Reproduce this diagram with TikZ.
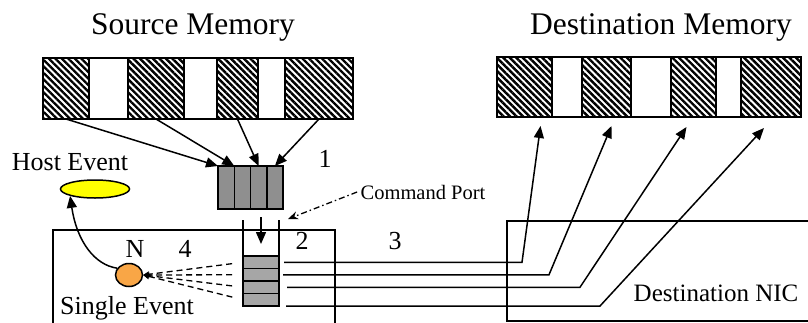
\documentclass[tikz,border=0pt]{standalone}
\usepackage{fontspec}
\setmainfont{Liberation Serif}
\usepackage{tikz}
\usetikzlibrary{arrows.meta,positioning,shapes.geometric,calc,patterns.meta}
\definecolor{BufGray}{HTML}{8F8F8F}
\definecolor{PortGray}{HTML}{A6A6A6}
\definecolor{EventOrange}{HTML}{F9A646}
\definecolor{HostYellow}{HTML}{FFFF00}
\newcommand{\titlefont}{\fontsize{31.5}{35}\selectfont}
\newcommand{\lblfont}{\fontsize{26}{30}\selectfont}
\newcommand{\nicfont}{\fontsize{25}{29}\selectfont}
\newcommand{\portfont}{\fontsize{20.5}{24}\selectfont}

\begin{document}
\begin{tikzpicture}[x=1pt,y=-1pt,>={Triangle[length=12pt,width=10pt]},
  seg/.style={draw,line width=1.6pt,inner sep=0pt,outer sep=0pt},
  hatch/.style={seg,pattern={Lines[angle=-45,distance=4.6pt,line width=2.4pt]}},
  blank/.style={seg,fill=white},
  cell/.style={draw,line width=1.5pt,inner sep=0pt,outer sep=0pt},
  link/.style={line width=1.5pt},
  dashdot/.style={line width=1.3pt,dash pattern=on 6pt off 3pt on 1.5pt off 3pt}]
  \useasboundingbox (0,0) rectangle (808,322);
  \clip (0,0) rectangle (808,322);

  % memories
  \node[font=\titlefont] (srctitle) at (193,27) {Source Memory};
  \node[font=\titlefont] (dsttitle) at (661,27) {Destination Memory};
  \foreach \nm/\xa/\xb/\st in {s1/43/89/hatch,s2/89/128/blank,s3/128/184/hatch,
      s4/184/217/blank,s5/217/258/hatch,s6/258/285/blank,s7/285/353/hatch}
    \node[\st,minimum width={(\xb-\xa)*1pt},minimum height=61pt] (\nm) at ({(\xa+\xb)/2},88.5) {};
  \foreach \nm/\xa/\xb/\st in {d1/497/552/hatch,d2/552/582/blank,d3/582/631/hatch,
      d4/631/671/blank,d5/671/716/hatch,d6/716/741/blank,d7/741/801/hatch}
    \node[\st,minimum width={(\xb-\xa)*1pt},minimum height=60pt] (\nm) at ({(\xa+\xb)/2},87) {};

  % NIC boxes
  \node[draw,line width=1.5pt,anchor=north west,minimum width=282pt,minimum height=130pt] (hostnic) at (52,229) {};
  \node[draw,line width=1.5pt,anchor=north west,minimum width=330pt,minimum height=100pt] (destnic) at (506,220) {};
  \node[font=\nicfont] (nictext) at (716,293) {Destination NIC};

  % gather buffer and command port
  \foreach \i in {1,...,4}
    \node[cell,fill=BufGray,minimum width=16.25pt,minimum height=43pt] (c\i) at ({218+16.25*(\i-0.5)},187.5) {};
  \foreach \i in {1,...,4}
    \node[cell,fill=PortGray,minimum width=36pt,minimum height=12.5pt] (q\i) at (261,{256+12.5*(\i-0.5)}) {};
  \draw[line width=1.5pt] (q1.north west) -- ++(0,-36);
  \draw[line width=1.5pt] (q1.north east) -- ++(0,-36);
  \coordinate (inlet) at ($(q1.north)+(0,-39)$);
  \draw[link,->] (inlet) -- ($(q1.north)+(0,-12)$);

  \draw[link,->] (s1.south) -- (c1.north west);
  \draw[link,->] (s3.south) -- (c2.north west);
  \draw[link,->] (s5.south) -- (c3.north);
  \draw[link,->] (s7.south) -- (c4.north);

  \node[font=\portfont] (cmd) at (423,192) {Command Port};
  \coordinate (portmark) at ($(q1.north east)+(9,-37)$);
  \draw[dashdot,-{Stealth[length=10pt,width=8pt]}] (cmd.west) -- (portmark);

  % transfers to destination
  \coordinate (t1) at ($(d1.south)+(16,9)$);
  \coordinate (t2) at ($(d3.south)+(5,9)$);
  \coordinate (t3) at ($(d5.south)+(-7,10)$);
  \coordinate (t4) at ($(d7.south)+(-7,11)$);
  \coordinate (b1) at ($(q1.east)+(243,0)$);
  \coordinate (b2) at ($(q2.east)+(270,0)$);
  \coordinate (b3) at ($(q3.east)+(301,0)$);
  \coordinate (b4) at ($(q4.south east)+(321,0)$);
  \draw[link,->,shorten <=5pt] (q1.east) -- (b1) -- (t1);
  \draw[link,->,shorten <=4pt] (q2.east) -- (b2) -- (t2);
  \draw[link,->,shorten <=8pt] (q3.east) -- (b3) -- (t3);
  \draw[link,->,shorten <=7pt] (q4.south east) -- (b4) -- (t4);

  % events
  \node[ellipse,draw,line width=1.5pt,fill=HostYellow,minimum width=69pt,minimum height=18pt,inner sep=0pt] (host) at (95,189) {};
  \node[font=\lblfont] (hostlbl) at (70,162) {Host Event};
  \node[ellipse,draw,line width=1.5pt,fill=EventOrange,minimum width=27pt,minimum height=23pt,inner sep=0pt] (ev) at (129,275) {};
  \node[font=\lblfont] (evlbl) at (127,308) {Single Event};
  \foreach \i in {1,...,4}
    \draw[line width=1.3pt,dash pattern=on 6pt off 4pt,-{Stealth[length=6pt,width=6pt]},shorten <=11pt] (q\i.west) -- (ev.east);
  \draw[link,->] (ev.150) .. controls (95,265) and (77,242) .. (host.south west);

  % labels
  \node[font=\lblfont] (one) at (325,159) {1};
  \node[font=\lblfont] (two) at (302,241) {2};
  \node[font=\lblfont] (three) at (395,241) {3};
  \node[font=\lblfont] (four) at (185,249) {4};
  \node[font=\lblfont] (nlbl) at (135,249) {N};
\end{tikzpicture}
\end{document}
